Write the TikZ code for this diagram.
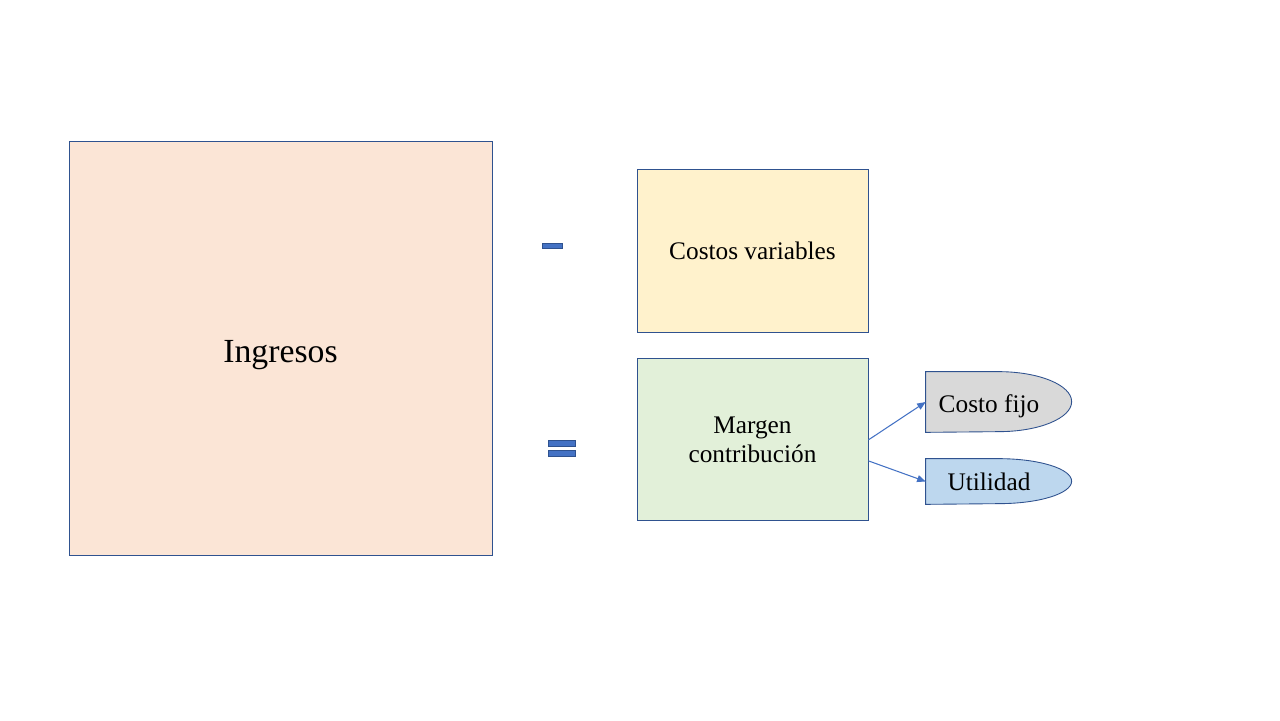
\documentclass[tikz,border=0pt]{standalone}
\usepackage{fontspec}
\setmainfont{Liberation Serif}
\usetikzlibrary{
  arrows.meta,
  positioning,
  calc,
  backgrounds
}
\definecolor{cvBorder}{HTML}{2F528F}
\definecolor{cvAccent}{HTML}{4472C4}
\definecolor{cvIngreso}{HTML}{FBE5D6}
\definecolor{cvVariable}{HTML}{FFF2CC}
\definecolor{cvMargen}{HTML}{E2F0D9}
\definecolor{cvFijo}{HTML}{D9D9D9}
\definecolor{cvUtil}{HTML}{BDD7EE}
\tikzset{
  cvnode/.style={
    draw=cvBorder, line width=0.5pt, align=center, inner sep=0pt,
    font=\fontsize{14.4}{16.5}\selectfont
  },
  ingbox/.style={cvnode, fill=cvIngreso, minimum width=8.46cm, minimum height=8.28cm,
    font=\fontsize{19.2}{22}\selectfont, text height=0.56cm, text depth=0cm},
  varbox/.style={cvnode, fill=cvVariable, minimum width=4.62cm, minimum height=3.26cm},
  marbox/.style={cvnode, fill=cvMargen, minimum width=4.62cm, minimum height=3.24cm},
  halfoval/.style={align=center, inner sep=0pt, minimum width=2.52cm,
    font=\fontsize{14.4}{16.5}\selectfont, text depth=0cm},
  ovalline/.style={draw=cvBorder, line width=0.5pt},
  signbar/.style={draw=cvBorder, fill=cvAccent, line width=0.5pt, inner sep=0pt, minimum height=0.1cm},
  splitarrow/.style={-{Triangle[length=1.7mm, width=1.4mm]}, line width=0.6pt, cvAccent}
}
\begin{document}
\begin{tikzpicture}[node distance=0.52cm]
  \useasboundingbox (0,0) rectangle (25.6,-14.4);
  \node[ingbox] (ing) at (5.61,-6.96) {Ingresos};
  \node[varbox] (var) at (15.05,-5.01) {Costos variables};
  \node[marbox, below=of var] (mar) {Margen\\contribución};
  \node[signbar, minimum width=0.4cm] (minus) at (11.04,-4.92) {};
  \node[signbar, minimum width=0.54cm, minimum height=0.12cm] (eqtop) at (11.23,-8.86) {};
  \node[signbar, minimum width=0.54cm, minimum height=0.12cm] (eqbot) at (11.23,-9.06) {};
  \node[halfoval, minimum height=1.2cm, text height=0.4cm] (fijo) at (19.78,-8.04) {Costo fijo};
  \node[halfoval, minimum height=0.9cm, text height=0.34cm] (util) at (19.78,-9.63) {Utilidad};
  \begin{scope}[on background layer]
    \draw[ovalline, fill=cvFijo] (fijo.north west) -- ++(1.46,0)
      arc[start angle=90, end angle=-90, x radius=1.46cm, y radius=0.6cm] -- (fijo.south west) -- cycle;
    \draw[ovalline, fill=cvUtil] (util.north west) -- ++(1.46,0)
      arc[start angle=90, end angle=-90, x radius=1.46cm, y radius=0.45cm] -- (util.south west) -- cycle;
  \end{scope}
  \draw[splitarrow] (mar.east) -- (fijo.west);
  \draw[splitarrow] ([yshift=-0.42cm]mar.east) -- (util.west);
\end{tikzpicture}
\end{document}
